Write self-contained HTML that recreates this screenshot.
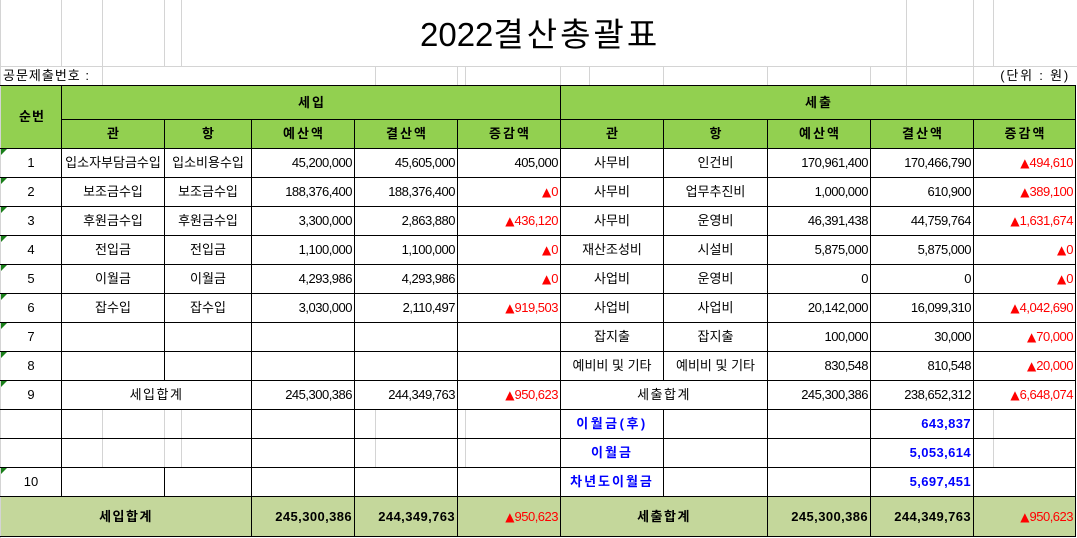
<!DOCTYPE html>
<html><head><meta charset="utf-8"><style>
body{margin:0;background:#fff}
#c{position:relative;width:1077px;height:538px;overflow:hidden;background:#fff;font-family:"Liberation Sans","Noto Sans CJK KR",sans-serif;color:#000}
.h{position:absolute;height:1px;background:#000}
.v{position:absolute;width:1px;background:#000}
.g{background:#d4d4d4}
.f{position:absolute}
.t{position:absolute;white-space:nowrap;height:28px;line-height:28px;font-size:13px;text-align:center}
.n{text-align:right;font-size:13px;letter-spacing:-0.5px;padding-right:2px;box-sizing:border-box}
.r{color:#f00}
.a{font-family:"DejaVu Sans",sans-serif;font-size:12px;letter-spacing:0}
.b{font-weight:bold}
.bl{color:#0000ff;font-weight:bold;font-size:13px}
.hd{font-weight:bold;font-size:13px;letter-spacing:2px;padding-left:2px;box-sizing:border-box}
.tri{position:absolute;left:1px;width:0;height:0;border-top:6px solid #1a7f1a;border-right:6px solid transparent}
</style></head><body><div id="c">

<!-- fills -->
<div class="f" style="left:0;top:85px;width:1076px;height:63px;background:#92D050"></div>
<div class="f" style="left:0;top:496px;width:1076px;height:41px;background:#C4D79B"></div>

<!-- gray gridlines -->
<div class="h g" style="left:0;top:66px;width:1077px"></div>
<div class="v g" style="left:0;top:0;height:538px"></div>
<div class="v g" style="left:61px;top:0;height:66px"></div>
<div class="v g" style="left:102px;top:0;height:85px"></div>
<div class="v g" style="left:164px;top:0;height:66px"></div>
<div class="v g" style="left:181px;top:0;height:66px"></div>
<div class="v g" style="left:906px;top:0;height:85px"></div>
<div class="v g" style="left:973px;top:0;height:85px"></div>
<div class="v g" style="left:993px;top:0;height:66px"></div>
<div class="v g" style="left:375px;top:66px;height:19px"></div>
<div class="v g" style="left:457px;top:66px;height:19px"></div>
<div class="v g" style="left:465px;top:66px;height:19px"></div>
<div class="v g" style="left:560px;top:66px;height:19px"></div>
<div class="v g" style="left:589px;top:66px;height:19px"></div>
<div class="v g" style="left:663px;top:66px;height:19px"></div>
<div class="v g" style="left:767px;top:66px;height:19px"></div>
<div class="v g" style="left:870px;top:66px;height:19px"></div>
<div class="v g" style="left:102px;top:409px;height:58px"></div>
<div class="v g" style="left:164px;top:409px;height:58px"></div>
<div class="v g" style="left:181px;top:409px;height:58px"></div>
<div class="v g" style="left:375px;top:409px;height:58px"></div>
<div class="v g" style="left:465px;top:409px;height:58px"></div>
<div class="v g" style="left:993px;top:409px;height:58px"></div>

<!-- black horizontal lines -->
<div class="h" style="left:0;top:85px;width:1076px"></div>
<div class="h" style="left:61px;top:119px;width:1015px"></div>
<div class="h" style="left:0;top:148px;width:1076px"></div>
<div class="h" style="left:0;top:177px;width:1076px"></div>
<div class="h" style="left:0;top:206px;width:1076px"></div>
<div class="h" style="left:0;top:235px;width:1076px"></div>
<div class="h" style="left:0;top:264px;width:1076px"></div>
<div class="h" style="left:0;top:293px;width:1076px"></div>
<div class="h" style="left:0;top:322px;width:1076px"></div>
<div class="h" style="left:0;top:351px;width:1076px"></div>
<div class="h" style="left:0;top:380px;width:1076px"></div>
<div class="h" style="left:0;top:409px;width:1076px"></div>
<div class="h" style="left:0;top:438px;width:1076px"></div>
<div class="h" style="left:0;top:467px;width:1076px"></div>
<div class="h" style="left:0;top:496px;width:1076px"></div>
<div class="h" style="left:0;top:536px;width:1076px"></div>

<!-- black vertical lines -->
<div class="v" style="left:61px;top:85px;height:411px"></div>
<div class="v" style="left:164px;top:119px;height:261px"></div>
<div class="v" style="left:164px;top:467px;height:29px"></div>
<div class="v" style="left:251px;top:119px;height:418px"></div>
<div class="v" style="left:354px;top:119px;height:418px"></div>
<div class="v" style="left:457px;top:119px;height:418px"></div>
<div class="v" style="left:560px;top:85px;height:452px"></div>
<div class="v" style="left:663px;top:119px;height:261px"></div>
<div class="v" style="left:663px;top:409px;height:87px"></div>
<div class="v" style="left:767px;top:119px;height:418px"></div>
<div class="v" style="left:870px;top:119px;height:418px"></div>
<div class="v" style="left:973px;top:119px;height:418px"></div>
<div class="v" style="left:1075px;top:85px;height:452px"></div>

<!-- green triangles -->
<div class="tri" style="top:149px"></div>
<div class="tri" style="top:178px"></div>
<div class="tri" style="top:207px"></div>
<div class="tri" style="top:236px"></div>
<div class="tri" style="top:265px"></div>
<div class="tri" style="top:294px"></div>
<div class="tri" style="top:323px"></div>
<div class="tri" style="top:352px"></div>
<div class="tri" style="top:381px"></div>
<div class="tri" style="top:468px"></div>

<!-- title -->
<div class="f" style="left:420px;top:15px;height:40px;line-height:40px;font-size:33px;white-space:nowrap">2022<span style="letter-spacing:3px">결산총괄표</span></div>
<div class="t" style="left:3px;top:66px;height:19px;line-height:19px;font-size:13px;letter-spacing:1px;text-align:left">공문제출번호 :</div>
<div class="t" style="left:990px;top:66px;width:80px;height:19px;line-height:19px;font-size:13px;letter-spacing:1.8px;text-align:right">(단위 : 원)</div>

<!-- headers -->
<div class="t hd" style="left:1px;top:86px;width:60px;height:62px;line-height:62px;letter-spacing:1px">순번</div>
<div class="t hd" style="left:62px;top:86px;width:498px;height:33px;line-height:33px">세입</div>
<div class="t hd" style="left:561px;top:86px;width:514px;height:33px;line-height:33px">세출</div>
<div class="t hd" style="left:62px;top:120px;width:102px">관</div>
<div class="t hd" style="left:165px;top:120px;width:86px">항</div>
<div class="t hd" style="left:252px;top:120px;width:102px">예산액</div>
<div class="t hd" style="left:355px;top:120px;width:102px">결산액</div>
<div class="t hd" style="left:458px;top:120px;width:102px">증감액</div>
<div class="t hd" style="left:561px;top:120px;width:102px">관</div>
<div class="t hd" style="left:664px;top:120px;width:103px">항</div>
<div class="t hd" style="left:768px;top:120px;width:102px">예산액</div>
<div class="t hd" style="left:871px;top:120px;width:102px">결산액</div>
<div class="t hd" style="left:974px;top:120px;width:101px">증감액</div>

<!-- row 1 -->
<div class="t" style="left:1px;top:149px;width:60px">1</div>
<div class="t" style="left:62px;top:149px;width:102px">입소자부담금수입</div>
<div class="t" style="left:165px;top:149px;width:86px">입소비용수입</div>
<div class="t n" style="left:252px;top:149px;width:102px">45,200,000</div>
<div class="t n" style="left:355px;top:149px;width:102px">45,605,000</div>
<div class="t n" style="left:458px;top:149px;width:102px">405,000</div>
<div class="t" style="left:561px;top:149px;width:102px">사무비</div>
<div class="t" style="left:664px;top:149px;width:103px">인건비</div>
<div class="t n" style="left:768px;top:149px;width:102px">170,961,400</div>
<div class="t n" style="left:871px;top:149px;width:102px">170,466,790</div>
<div class="t n r" style="left:974px;top:149px;width:101px"><span class="a">▲</span>494,610</div>

<!-- row 2 -->
<div class="t" style="left:1px;top:178px;width:60px">2</div>
<div class="t" style="left:62px;top:178px;width:102px">보조금수입</div>
<div class="t" style="left:165px;top:178px;width:86px">보조금수입</div>
<div class="t n" style="left:252px;top:178px;width:102px">188,376,400</div>
<div class="t n" style="left:355px;top:178px;width:102px">188,376,400</div>
<div class="t n r" style="left:458px;top:178px;width:102px"><span class="a">▲</span>0</div>
<div class="t" style="left:561px;top:178px;width:102px">사무비</div>
<div class="t" style="left:664px;top:178px;width:103px">업무추진비</div>
<div class="t n" style="left:768px;top:178px;width:102px">1,000,000</div>
<div class="t n" style="left:871px;top:178px;width:102px">610,900</div>
<div class="t n r" style="left:974px;top:178px;width:101px"><span class="a">▲</span>389,100</div>

<!-- row 3 -->
<div class="t" style="left:1px;top:207px;width:60px">3</div>
<div class="t" style="left:62px;top:207px;width:102px">후원금수입</div>
<div class="t" style="left:165px;top:207px;width:86px">후원금수입</div>
<div class="t n" style="left:252px;top:207px;width:102px">3,300,000</div>
<div class="t n" style="left:355px;top:207px;width:102px">2,863,880</div>
<div class="t n r" style="left:458px;top:207px;width:102px"><span class="a">▲</span>436,120</div>
<div class="t" style="left:561px;top:207px;width:102px">사무비</div>
<div class="t" style="left:664px;top:207px;width:103px">운영비</div>
<div class="t n" style="left:768px;top:207px;width:102px">46,391,438</div>
<div class="t n" style="left:871px;top:207px;width:102px">44,759,764</div>
<div class="t n r" style="left:974px;top:207px;width:101px"><span class="a">▲</span>1,631,674</div>

<!-- row 4 -->
<div class="t" style="left:1px;top:236px;width:60px">4</div>
<div class="t" style="left:62px;top:236px;width:102px">전입금</div>
<div class="t" style="left:165px;top:236px;width:86px">전입금</div>
<div class="t n" style="left:252px;top:236px;width:102px">1,100,000</div>
<div class="t n" style="left:355px;top:236px;width:102px">1,100,000</div>
<div class="t n r" style="left:458px;top:236px;width:102px"><span class="a">▲</span>0</div>
<div class="t" style="left:561px;top:236px;width:102px">재산조성비</div>
<div class="t" style="left:664px;top:236px;width:103px">시설비</div>
<div class="t n" style="left:768px;top:236px;width:102px">5,875,000</div>
<div class="t n" style="left:871px;top:236px;width:102px">5,875,000</div>
<div class="t n r" style="left:974px;top:236px;width:101px"><span class="a">▲</span>0</div>

<!-- row 5 -->
<div class="t" style="left:1px;top:265px;width:60px">5</div>
<div class="t" style="left:62px;top:265px;width:102px">이월금</div>
<div class="t" style="left:165px;top:265px;width:86px">이월금</div>
<div class="t n" style="left:252px;top:265px;width:102px">4,293,986</div>
<div class="t n" style="left:355px;top:265px;width:102px">4,293,986</div>
<div class="t n r" style="left:458px;top:265px;width:102px"><span class="a">▲</span>0</div>
<div class="t" style="left:561px;top:265px;width:102px">사업비</div>
<div class="t" style="left:664px;top:265px;width:103px">운영비</div>
<div class="t n" style="left:768px;top:265px;width:102px">0</div>
<div class="t n" style="left:871px;top:265px;width:102px">0</div>
<div class="t n r" style="left:974px;top:265px;width:101px"><span class="a">▲</span>0</div>

<!-- row 6 -->
<div class="t" style="left:1px;top:294px;width:60px">6</div>
<div class="t" style="left:62px;top:294px;width:102px">잡수입</div>
<div class="t" style="left:165px;top:294px;width:86px">잡수입</div>
<div class="t n" style="left:252px;top:294px;width:102px">3,030,000</div>
<div class="t n" style="left:355px;top:294px;width:102px">2,110,497</div>
<div class="t n r" style="left:458px;top:294px;width:102px"><span class="a">▲</span>919,503</div>
<div class="t" style="left:561px;top:294px;width:102px">사업비</div>
<div class="t" style="left:664px;top:294px;width:103px">사업비</div>
<div class="t n" style="left:768px;top:294px;width:102px">20,142,000</div>
<div class="t n" style="left:871px;top:294px;width:102px">16,099,310</div>
<div class="t n r" style="left:974px;top:294px;width:101px"><span class="a">▲</span>4,042,690</div>

<!-- row 7 -->
<div class="t" style="left:1px;top:323px;width:60px">7</div>
<div class="t" style="left:561px;top:323px;width:102px">잡지출</div>
<div class="t" style="left:664px;top:323px;width:103px">잡지출</div>
<div class="t n" style="left:768px;top:323px;width:102px">100,000</div>
<div class="t n" style="left:871px;top:323px;width:102px">30,000</div>
<div class="t n r" style="left:974px;top:323px;width:101px"><span class="a">▲</span>70,000</div>

<!-- row 8 -->
<div class="t" style="left:1px;top:352px;width:60px">8</div>
<div class="t" style="left:561px;top:352px;width:102px">예비비 및 기타</div>
<div class="t" style="left:664px;top:352px;width:103px">예비비 및 기타</div>
<div class="t n" style="left:768px;top:352px;width:102px">830,548</div>
<div class="t n" style="left:871px;top:352px;width:102px">810,548</div>
<div class="t n r" style="left:974px;top:352px;width:101px"><span class="a">▲</span>20,000</div>

<!-- row 9 -->
<div class="t" style="left:1px;top:381px;width:60px">9</div>
<div class="t" style="left:62px;top:381px;width:189px;letter-spacing:1.5px">세입합계</div>
<div class="t n" style="left:252px;top:381px;width:102px">245,300,386</div>
<div class="t n" style="left:355px;top:381px;width:102px">244,349,763</div>
<div class="t n r" style="left:458px;top:381px;width:102px"><span class="a">▲</span>950,623</div>
<div class="t" style="left:561px;top:381px;width:206px;letter-spacing:1.5px">세출합계</div>
<div class="t n" style="left:768px;top:381px;width:102px">245,300,386</div>
<div class="t n" style="left:871px;top:381px;width:102px">238,652,312</div>
<div class="t n r" style="left:974px;top:381px;width:101px"><span class="a">▲</span>6,648,074</div>

<!-- carry-over rows -->
<div class="t bl" style="left:561px;top:410px;width:102px;letter-spacing:2.5px">이월금(후)</div>
<div class="t n bl" style="left:871px;top:410px;width:102px;letter-spacing:0.4px">643,837</div>
<div class="t bl" style="left:561px;top:439px;width:102px;letter-spacing:2px">이월금</div>
<div class="t n bl" style="left:871px;top:439px;width:102px;letter-spacing:0.4px">5,053,614</div>
<div class="t" style="left:1px;top:468px;width:60px">10</div>
<div class="t bl" style="left:561px;top:468px;width:102px;letter-spacing:2px">차년도이월금</div>
<div class="t n bl" style="left:871px;top:468px;width:102px;letter-spacing:0.4px">5,697,451</div>

<!-- total row -->
<div class="t b" style="left:1px;top:497px;width:250px;height:39px;line-height:39px;font-size:13px;letter-spacing:1.5px">세입합계</div>
<div class="t n b" style="left:252px;top:497px;width:102px;height:39px;line-height:39px;letter-spacing:0.4px">245,300,386</div>
<div class="t n b" style="left:355px;top:497px;width:102px;height:39px;line-height:39px;letter-spacing:0.4px">244,349,763</div>
<div class="t n r" style="left:458px;top:497px;width:102px;height:39px;line-height:39px"><span class="a">▲</span>950,623</div>
<div class="t b" style="left:561px;top:497px;width:206px;height:39px;line-height:39px;font-size:13px;letter-spacing:1.5px">세출합계</div>
<div class="t n b" style="left:768px;top:497px;width:102px;height:39px;line-height:39px;letter-spacing:0.4px">245,300,386</div>
<div class="t n b" style="left:871px;top:497px;width:102px;height:39px;line-height:39px;letter-spacing:0.4px">244,349,763</div>
<div class="t n r" style="left:974px;top:497px;width:101px;height:39px;line-height:39px"><span class="a">▲</span>950,623</div>

</div></body></html>
